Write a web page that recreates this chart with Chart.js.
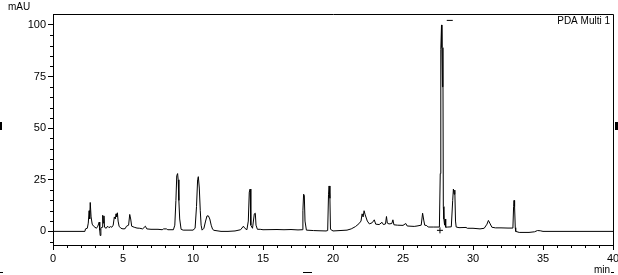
<!DOCTYPE html>
<html>
<head>
<meta charset="utf-8">
<script src="https://cdn.jsdelivr.net/npm/chart.js@4/dist/chart.umd.min.js"></script>
<style>
  html, body { margin: 0; padding: 0; background: #fff; }
  canvas { display: block; }
</style>
</head>
<body>
<canvas id="chromChart" width="618" height="275"></canvas>
<script>
// retention time (min) and detector signal (mAU)
let times = [0, 2.28, 2.32, 2.45, 2.52, 2.58, 2.62, 2.66, 2.72, 2.8, 2.9, 3.0, 3.1, 3.2, 3.3, 3.34, 3.37, 3.42, 3.5, 3.55, 3.6, 3.64, 3.68, 3.8, 3.9,
  4.0, 4.1, 4.2, 4.3, 4.38, 4.45, 4.5, 4.55, 4.6, 4.65, 4.72, 4.85, 5.0, 5.15, 5.25, 5.4, 5.48, 5.55, 5.62, 5.8, 6.0, 6.2, 6.4, 6.6, 6.7,
  7.0, 7.5, 7.8, 7.9, 8.1, 8.2, 8.6, 8.7, 8.78, 8.84, 8.9, 8.94, 8.99, 9.05, 9.15, 9.3, 10.0, 10.15, 10.25, 10.33, 10.38, 10.45, 10.52, 10.58, 10.65,
  10.78, 10.9, 11.0, 11.1, 11.2, 11.3, 11.4, 11.5, 12.0, 12.5, 13.0, 13.4, 13.6, 13.7, 13.85, 13.95, 14.02, 14.08, 14.13, 14.25, 14.38, 14.45, 14.5, 14.6, 14.8,
  15.0, 16.0, 16.5, 17.0, 17.5, 17.8, 17.85, 17.9, 17.95, 18.0, 18.1, 18.6, 19.0, 19.5, 19.62, 19.68, 19.72, 19.78, 19.82, 20.0, 20.5,
  21.0, 21.3, 21.6, 21.85, 22.0, 22.08, 22.15, 22.22, 22.3, 22.45, 22.6, 22.8, 22.95, 23.05, 23.3, 23.5, 23.6, 23.75, 23.82, 23.88,
  24.0, 24.2, 24.28, 24.35, 24.6, 25.0, 25.2, 25.3, 25.8, 26.0, 26.3, 26.4, 26.48, 26.55, 26.7, 26.8, 27.2, 27.6, 27.66, 27.7, 27.75, 27.78,
  27.82, 27.85, 27.88, 27.92, 27.97, 28.0, 28.05, 28.2, 28.45, 28.55, 28.6, 28.65, 28.7, 28.75, 28.8, 29.0, 29.5, 29.6, 30.0, 30.5, 30.8,
  31.0, 31.1, 31.2, 31.35, 31.6, 32.0, 32.5, 32.85, 32.9, 32.93, 32.97, 33.02, 33.05, 33.3, 34.0, 34.4, 34.6, 34.8, 35.0, 40.0];
let mAU = [0, 0, 1.2, 1.5, 4, 10, 6, 14, 7, 3.5, 2.5, 2, 1.5, 2.5, 4.5, 0.5, -2, 1.5, 2, 7.8, 4, 7.5, 2, 1.5, 2.5,
  1.8, 2.3, 2, 3, 7, 6, 8.5, 7, 9, 5, 2.5, 1.5, 1.2, 1.3, 2.5, 3, 8.2, 6, 2.5, 2, 1.6, 1.5, 1.2, 2.5, 1.2,
  1, 1, 0.8, 1.2, 1.2, 0.8, 0.8, 3, 15, 27, 28, 25, 15, 6, 1, 0.6, 0.6, 1.5, 12, 25, 26.5, 21, 10, 3, 0.6,
  1.5, 5, 7.5, 7.5, 6, 3, 1, 0.5, 0, 0, 0.2, 0.8, 2.5, 1.5, 0.8, 5, 19, 20.5, 3, 1.5, 8.5, 8.8, 3, 1, 1,
  0.8, 0.9, 0.8, 0.9, 0.7, 0.8, 10, 18, 17.5, 5, 0.6, 0.4, 0.3, 0.2, 0.4, 18, 22, 16, 1, 0.2, 0.4,
  0.6, 1.2, 2.3, 3.7, 5, 8.5, 7, 10, 8, 5, 3.6, 4.2, 5.6, 3.5, 3.3, 4.4, 3.3, 3.6, 7.2, 4,
  3.6, 3.8, 5.6, 3.2, 3, 2.9, 3.8, 2.6, 2.4, 2.6, 3, 8.8, 5.5, 3, 2.8, 2.1, 2.1, 2.1, 28, 88, 100, 89,
  70, 89, 12, 6, 3, 6, 2, 2.1, 2.2, 15, 20.5, 18, 20, 5, 2.1, 1.8, 1.9, 1.5, 1.5, 1.2, 1.5,
  3.5, 5.3, 4, 2, 1.7, 1.7, 1.6, 1.6, 12, 15, 12, 1.8, 0, -0.5, -0.5, -0.2, 0.4, 0.3, 0, 0];

// integration marks (baseline cross, peak label bar)
let markTimes = [27.64, 28.34];
let markValues = [0.5, 102.2];
let markStyles = ['cross', 'line'];

let xTicks = [0, 5, 10, 15, 20, 25, 30, 35, 40];
let yTicks = [0, 25, 50, 75, 100];

let traceData = times.map((t, i) => ({ x: t, y: mAU[i] }));
let markData = markTimes.map((t, i) => ({ x: t, y: markValues[i] }));

let fam = '"Liberation Sans", Arial, sans-serif';
let txtFont = '10px ' + fam;

let frameAndLabels = {
  id: 'frameAndLabels',
  afterDraw(chart) {
    let ctx = chart.ctx;
    let a = chart.chartArea;
    let xs = chart.scales.x, ys = chart.scales.y;
    ctx.save();
    ctx.strokeStyle = '#000';
    ctx.lineWidth = 1;
    // top and right frame
    ctx.beginPath();
    ctx.moveTo(Math.round(a.left) + 0.5, Math.round(a.top) + 0.5);
    ctx.lineTo(Math.round(a.right) + 0.5, Math.round(a.top) + 0.5);
    ctx.lineTo(Math.round(a.right) + 0.5, Math.round(a.bottom) + 0.5);
    ctx.stroke();
    // minor ticks
    ctx.beginPath();
    for (let t = 1; t < 40; t++) {
      if (t % 5 === 0) continue;
      let px = Math.round(xs.getPixelForValue(t)) + 0.5;
      ctx.moveTo(px, Math.round(a.bottom));
      ctx.lineTo(px, Math.round(a.bottom) + 3);
    }
    for (let v = -5; v < 100; v += 5) {
      if (v % 25 === 0) continue;
      let py = Math.round(ys.getPixelForValue(v)) + 0.5;
      ctx.moveTo(Math.round(a.left), py);
      ctx.lineTo(Math.round(a.left) - 3, py);
    }
    ctx.stroke();
    // texts
    ctx.fillStyle = '#000';
    ctx.font = txtFont;
    ctx.textBaseline = 'top';
    ctx.textAlign = 'left';
    ctx.fillText('mAU', 8, 2);
    ctx.textAlign = 'right';
    ctx.fillText('PDA Multi 1', 610, 16);
    ctx.textBaseline = 'alphabetic';
    ctx.fillText('min', 610, 273);
    // little side markers of the printout
    ctx.fillRect(611, 272, 3, 1);
    ctx.fillRect(303, 272, 9, 1);
    ctx.fillRect(0, 272, 3, 1);
    ctx.fillRect(0, 122, 2, 8);
    ctx.fillRect(615, 122, 3, 8);
    ctx.restore();
  }
};

let chromChart = new Chart(document.getElementById('chromChart'), {
  type: 'line',
  data: {
    datasets: [
      {
        label: 'PDA Multi 1',
        data: traceData,
        borderColor: '#000',
        borderWidth: 1,
        pointRadius: 0,
        tension: 0,
        fill: false
      },
      {
        label: 'marks',
        data: markData,
        showLine: false,
        pointStyle: markStyles,
        pointRadius: 3,
        borderColor: '#000',
        borderWidth: 1,
        backgroundColor: '#000',
        clip: false
      }
    ]
  },
  options: {
    responsive: false,
    animation: false,
    events: [],
    layout: { padding: { top: 14, right: 5, left: 0, bottom: 0 } },
    plugins: {
      legend: { display: false },
      tooltip: { enabled: false },
      title: { display: false }
    },
    scales: {
      x: {
        type: 'linear',
        min: 0,
        max: 40,
        afterBuildTicks: s => { s.ticks = xTicks.map(v => ({ value: v })); },
        afterFit: s => { s.height = 30; s.paddingLeft = 0; s.paddingRight = 0; },
        grid: { drawOnChartArea: false, drawTicks: true, tickLength: 5, color: '#000', tickColor: '#000' },
        border: { display: true, color: '#000', width: 1 },
        ticks: { color: '#000', font: { family: fam, size: 11 }, padding: 2, maxRotation: 0, autoSkip: false }
      },
      y: {
        type: 'linear',
        min: -6.6,
        max: 105.3,
        afterBuildTicks: s => { s.ticks = yTicks.map(v => ({ value: v })); },
        afterFit: s => { s.width = 53; s.paddingTop = 0; s.paddingBottom = 0; },
        grid: { drawOnChartArea: false, drawTicks: true, tickLength: 5, color: '#000', tickColor: '#000' },
        border: { display: true, color: '#000', width: 1 },
        ticks: { color: '#000', font: { family: fam, size: 11 }, padding: 2, autoSkip: false }
      }
    }
  },
  plugins: [frameAndLabels]
});
</script>
</body>
</html>
